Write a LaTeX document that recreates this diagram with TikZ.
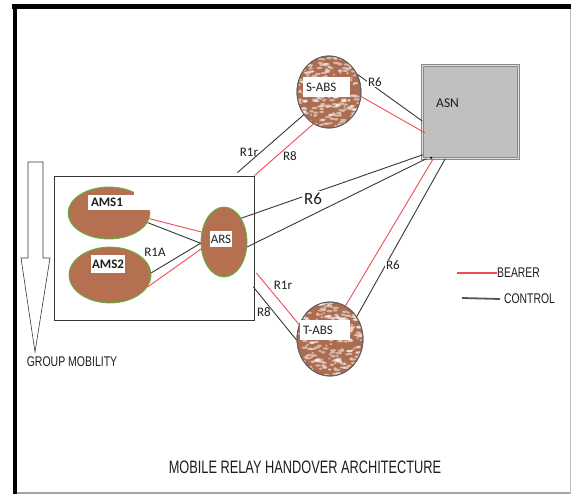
\documentclass[tikz,border=0pt]{standalone}
\usepackage{fontspec}
\setmainfont{Carlito}
\newfontfamily\arialf{Liberation Sans}
\usetikzlibrary{shapes.geometric,calc}
\definecolor{brownfill}{RGB}{180,112,80}
\definecolor{absfill}{RGB}{172,108,80}
\definecolor{greenline}{RGB}{90,185,70}
\definecolor{ctrl}{RGB}{55,55,55}
\definecolor{bear}{RGB}{240,75,85}
\definecolor{asngray}{RGB}{192,192,192}
\definecolor{txt}{RGB}{30,30,30}
\begin{document}
\begin{tikzpicture}[x=1pt,y=-1pt,
  msnode/.style={ellipse, draw=greenline, line width=0.8pt, fill=brownfill, inner sep=0pt},
  absnode/.style={ellipse, draw=ctrl!80, line width=0.8pt, fill=absfill, inner sep=0pt},
  lbl/.style={fill=white, inner sep=1.5pt, text=txt, font=\fontsize{13}{14}\selectfont},
  rlbl/.style={inner sep=0.5pt, text=txt, font=\fontsize{13}{14}\selectfont},
  ctrlline/.style={draw=ctrl, line width=0.9pt},
  bearline/.style={draw=bear, line width=0.9pt},
  narrow/.style={font=\arialf\fontsize{14}{16}\selectfont, text=txt, inner sep=0pt}]
\useasboundingbox (0,0) rectangle (571,494);
\fill[white] (0,0) rectangle (571,494);
% outer frame
\draw[gray!70, line width=1.2pt] (13,493) -- (571,493);
\draw[gray!50, line width=1pt] (570,7) -- (570,493);
\draw[black, line width=5pt] (12,7) -- (571,7);
\draw[black, line width=4pt] (14.5,5) -- (14.5,494);

% group box
\node[draw=ctrl, line width=0.8pt, minimum width=200pt, minimum height=144pt, inner sep=0pt] (grp) at (154,248) {};

% mobility arrow
\draw[ctrl, line width=0.6pt, fill=white] (28,162) -- (43,162) -- (43,258) -- (50,258) -- (35,352) -- (21,258) -- (28,258) -- cycle;
\node[narrow] (gm) at (72,362) {\scalebox{0.75}[1]{GROUP MOBILITY}};

% mobile stations and relay
\node[msnode, minimum width=82pt, minimum height=52pt] (ams1) at (109,213) {};
\fill[white] (134,183) rectangle (154,196);
\node[msnode, minimum width=82pt, minimum height=56pt] (ams2) at (110,275) {};
\node[msnode, minimum width=46pt, minimum height=70pt] (ars) at (224,242) {};

% base stations
\node[absnode, minimum width=64pt, minimum height=72pt] (sabs) at (329,92) {};
\node[absnode, minimum width=66pt, minimum height=74pt] (tabs) at (330,339) {};
\pgfmathsetseed{7}
\begin{scope}
  \clip (sabs.center) ellipse (31.5pt and 35.5pt);
  \foreach \i in {1,...,260}{
    \pgfmathsetmacro{\px}{rand*31}
    \pgfmathsetmacro{\py}{rand*35}
    \pgfmathsetmacro{\pw}{1.0+2.5*rnd}
    \fill[white, opacity=0.5] ($(sabs.center)+(\px,\py)$) ellipse (\pw pt and 1.2pt);
  }
\end{scope}
\begin{scope}
  \clip (tabs.center) ellipse (32.5pt and 36.5pt);
  \foreach \i in {1,...,260}{
    \pgfmathsetmacro{\px}{rand*32}
    \pgfmathsetmacro{\py}{rand*36}
    \pgfmathsetmacro{\pw}{1.0+2.5*rnd}
    \fill[white, opacity=0.5] ($(tabs.center)+(\px,\py)$) ellipse (\pw pt and 1.2pt);
  }
\end{scope}
\draw[ctrl!80, line width=0.8pt] (sabs.center) ellipse (32pt and 36pt);
\draw[ctrl!80, line width=0.8pt] (tabs.center) ellipse (33pt and 37pt);

% ASN
\node[draw=ctrl!60, line width=0.6pt, double=asngray!50, double distance=0.9pt, fill=asngray, minimum width=96pt, minimum height=93pt, inner sep=0pt] (asn) at (470.5,112) {};
\node[font=\fontsize{13.5}{14}\selectfont, text=txt, anchor=west, inner sep=0pt] (asnl) at (436,103) {ASN};

% connectors inside the group
\draw[bearline] (ams1.-8) -- (ars.156);
\draw[ctrlline] (ams1.-14) -- (ars.183);
\draw[ctrlline] (ams2.3) -- (ars.183);
\draw[bearline] (ams2.-18) -- (ars.197);
\node[rlbl] (r1a) at (155,252) {R1A};

% S-ABS links
\draw[ctrlline] (sabs.32) -- ([yshift=-9pt]asn.west);
\node[rlbl, fill=white, inner sep=1pt] (r6a) at (375,82) {R6};
\draw[bearline] (sabs.-8) -- ([xshift=3pt,yshift=-21pt]asn.west);
\draw[ctrlline] (sabs.222) -- ([xshift=-17pt,yshift=3pt]grp.north east);
\node[rlbl] (r1ra) at (249,152) {R1r};
\draw[bearline] (sabs.244) -- (grp.north east);
\node[rlbl] (r8a) at (290,156) {R8};

% ARS to ASN
\draw[ctrlline] (ars.54) -- ([xshift=0.5pt,yshift=4pt]asn.south west);
\draw[ctrlline] (ars.-12) -- ([xshift=4pt]asn.south west);
\node[rlbl, fill=white, inner sep=2pt, font=\fontsize{17}{18}\selectfont] (r6b) at (313,199) {R6};

% ASN to T-ABS
\draw[bearline] ([xshift=11pt]asn.south west) -- (tabs.65);
\draw[ctrlline] ([xshift=23pt]asn.south west) -- (tabs.40);
\fill[black] ([xshift=9pt,yshift=1pt]asn.south west) circle (1.2pt);
\node[rlbl, fill=white, inner sep=1pt] (r6c) at (393,265) {R6};

% group to T-ABS
\draw[bearline] ([xshift=2pt,yshift=-25pt]grp.east) -- (tabs.155);
\node[rlbl] (r1rb) at (283,285) {R1r};
\draw[ctrlline] ([xshift=-1pt,yshift=-39pt]grp.east) -- (tabs.182);
\node[rlbl] (r8b) at (264,312) {R8};

% label boxes
\node[lbl, font=\bfseries\fontsize{13}{14}\selectfont, text width=56pt, inner xsep=3pt, align=left, minimum height=15pt] (ams1l) at (119,202.5) {AMS1};
\node[lbl, font=\bfseries\fontsize{13}{14}\selectfont, minimum height=18pt, inner xsep=1pt] (ams2l) at (108,264) {AMS2};
\node[lbl, minimum height=16pt, inner xsep=1pt] (arsl) at (221,239) {ARS};
\node[lbl, text width=41pt, inner xsep=3pt, align=left, minimum height=20pt] (sabsl) at (326.5,87) {S-ABS};
\node[lbl, text width=44pt, inner xsep=3pt, align=left, minimum height=20pt] (tabsl) at (325,330) {T-ABS};

% legend
\node[narrow, anchor=west] (bearer) at (497,273) {\scalebox{0.74}[1]{BEARER}};
\coordinate (bs) at (457,273);
\draw[draw=bear, line width=1.8pt] (bs) -- (bearer.west);
\node[narrow, anchor=west] (control) at (504,299) {\scalebox{0.74}[1]{CONTROL}};
\coordinate (cs) at (462,298);
\draw[draw=ctrl!85, line width=1.8pt] (cs) -- ([xshift=-4pt]control.west);

% caption
\node[font=\arialf\fontsize{18}{20}\selectfont, text=txt, inner sep=0pt] (cap) at (305,467) {\scalebox{0.71}[1]{MOBILE RELAY HANDOVER ARCHITECTURE}};
\end{tikzpicture}
\end{document}
